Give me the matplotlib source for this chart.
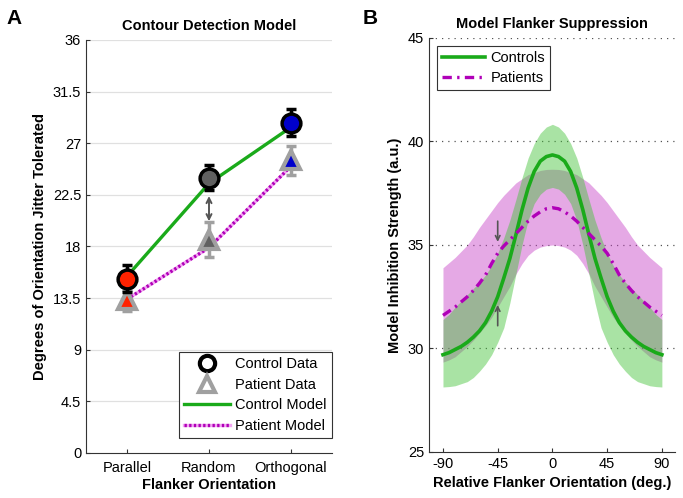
import numpy as np
import matplotlib
matplotlib.use("Agg")
import matplotlib.pyplot as plt
from matplotlib.lines import Line2D

plt.rcParams['font.family'] = ['Liberation Sans', 'DejaVu Sans']
plt.rcParams['axes.unicode_minus'] = False

# ---------------- Panel A data ----------------
categories = ['Parallel', 'Random', 'Orthogonal']
control_data = [15.2, 24.0, 28.8]
control_err = [1.2, 1.1, 1.2]
patient_data = [13.3, 18.6, 25.5]
patient_err = [0.95, 1.5, 1.3]
control_model = [15.4, 23.5, 28.4]
patient_model = [13.4, 17.9, 25.0]
marker_fill = ['#ff2200', '#606060', '#0000cc']
a_yticks = [0, 4.5, 9, 13.5, 18, 22.5, 27, 31.5, 36]
a_yticklabels = ['0', '4.5', '9', '13.5', '18', '22.5', '27', '31.5', '36']

# ---------------- Panel B data ----------------
orient = [-90, -85, -80, -75, -70, -65, -60, -55, -50, -45, -40, -35, -30, -25,
          -20, -15, -10, -5, 0, 5, 10, 15, 20, 25, 30, 35, 40, 45, 50, 55, 60,
          65, 70, 75, 80, 85, 90]
controls_mean = [29.7, 29.8, 29.95, 30.1, 30.3, 30.55, 30.85, 31.25, 31.8, 32.5,
                 33.4, 34.35, 35.5, 36.7, 37.75, 38.55, 39.05, 39.27, 39.35,
                 39.27, 39.05, 38.55, 37.75, 36.7, 35.5, 34.35, 33.4, 32.5, 31.8,
                 31.25, 30.85, 30.55, 30.3, 30.1, 29.95, 29.8, 29.7]
controls_upper = [31.4, 31.65, 32.0, 32.3, 32.6, 32.9, 33.2, 33.55, 34.0, 34.6,
                  35.35, 36.2, 37.2, 38.25, 39.2, 39.9, 40.4, 40.7, 40.83,
                  40.7, 40.4, 39.9, 39.2, 38.25, 37.2, 36.2, 35.35, 34.6, 34.0,
                  33.55, 33.2, 32.9, 32.6, 32.3, 32.0, 31.65, 31.4]
controls_lower = [28.14, 28.16, 28.2, 28.3, 28.4, 28.6, 28.9, 29.25, 29.7, 30.3,
                  31.0, 32.2, 33.6, 35.0, 36.2, 37.0, 37.45, 37.7, 37.78,
                  37.7, 37.45, 37.0, 36.2, 35.0, 33.6, 32.2, 31.0, 30.3, 29.7,
                  29.25, 28.9, 28.6, 28.4, 28.3, 28.2, 28.16, 28.14]
patients_mean = [31.6, 31.8, 32.0, 32.25, 32.5, 32.8, 33.15, 33.55, 34.1, 34.6,
                 34.95, 35.25, 35.55, 35.85, 36.15, 36.4, 36.6, 36.75, 36.8,
                 36.75, 36.6, 36.4, 36.15, 35.85, 35.55, 35.25, 34.95, 34.6, 34.1,
                 33.55, 33.15, 32.8, 32.5, 32.25, 32.0, 31.8, 31.6]
patients_upper = [33.9, 34.15, 34.4, 34.7, 35.0, 35.4, 35.85, 36.25, 36.65, 37.05,
                  37.4, 37.7, 38.0, 38.2, 38.4, 38.5, 38.6, 38.65, 38.66,
                  38.65, 38.6, 38.5, 38.4, 38.2, 38.0, 37.7, 37.4, 37.05, 36.65,
                  36.25, 35.85, 35.4, 35.0, 34.7, 34.4, 34.15, 33.9]
patients_lower = [29.34, 29.45, 29.6, 29.85, 30.1, 30.4, 30.75, 31.1, 31.5, 32.0,
                  32.5, 33.0, 33.6, 34.1, 34.5, 34.75, 34.9, 34.97, 35.0,
                  34.97, 34.9, 34.75, 34.5, 34.1, 33.6, 33.0, 32.5, 32.0, 31.5,
                  31.1, 30.75, 30.4, 30.1, 29.85, 29.6, 29.45, 29.34]
b_xticks = [-90, -45, 0, 45, 90]
b_yticks = [25, 30, 35, 40, 45]

GREEN = '#1aaa1a'
MAGENTA = '#b000b8'
AX_COL = '#333333'
FS = 10.5

fig = plt.figure(figsize=(6.83, 4.98), dpi=100)

# ======================= Panel A =======================
ax = fig.add_axes([0.1259, 0.0904, 0.3602, 0.8293])
x = np.arange(1, len(categories) + 1)
ax.set_xlim(0.5, 3.5)
ax.set_ylim(0, 36)
ax.set_yticks(a_yticks)
ax.set_yticklabels(a_yticklabels)
ax.set_xticks(x)
ax.set_xticklabels(categories)
for yv in a_yticks[1:]:
    ax.axhline(yv, color='#e0e0e0', lw=0.9, zorder=0)
for s in ['top', 'right']:
    ax.spines[s].set_visible(False)
for s in ['left', 'bottom']:
    ax.spines[s].set_color(AX_COL)
ax.tick_params(direction='in', length=3, colors=AX_COL, labelcolor='black',
               labelsize=FS)
ax.tick_params(axis='x', pad=6)

ax.plot(x, control_model, color=GREEN, lw=2.4, zorder=2)
ax.plot(x, patient_model, color='#f2a6f2', lw=2.4, zorder=2)
ax.plot(x, patient_model, color=MAGENTA, lw=2.4, dashes=(0.7, 0.7), zorder=2)

ax.errorbar(x, patient_data, yerr=patient_err, fmt='none', ecolor='#a0a0a0',
            elinewidth=2.5, capsize=3.5, capthick=2.5, zorder=3)
for xi, yi, c in zip(x, patient_data, marker_fill):
    ax.plot(xi, yi, marker='^', ms=13, mfc=c, mec='#a0a0a0', mew=3, zorder=3)
ax.errorbar(x, control_data, yerr=control_err, fmt='none', ecolor='black',
            elinewidth=2.5, capsize=3.5, capthick=2.5, zorder=4)
for xi, yi, c in zip(x, control_data, marker_fill):
    ax.plot(xi, yi, marker='o', ms=13.5, mfc=c, mec='black', mew=2.5, zorder=4)

ax.annotate('', xy=(2, 20.2), xytext=(2, 22.4),
            arrowprops=dict(arrowstyle='<->', color='#555555', lw=1.4,
                            shrinkA=0, shrinkB=0, mutation_scale=9))

ax.set_title('Contour Detection Model', fontsize=FS, fontweight='bold', pad=7)
ax.set_xlabel('Flanker Orientation', fontsize=FS, fontweight='bold', labelpad=2)
ax.set_ylabel('Degrees of Orientation Jitter Tolerated', fontsize=FS,
              fontweight='bold', labelpad=4)

h1 = Line2D([], [], marker='o', ls='none', mfc='none', mec='black', mew=3, ms=11)
h2 = Line2D([], [], marker='^', ls='none', mfc='none', mec='#a0a0a0', mew=3, ms=12)
h3 = Line2D([], [], color=GREEN, lw=2.4)
h4a = Line2D([], [], color='#f2a6f2', lw=2.4)
h4b = Line2D([], [], color=MAGENTA, lw=2.4, dashes=(0.7, 0.7))
leg = ax.legend([h1, h2, h3, (h4a, h4b)],
                ['Control Data', 'Patient Data', 'Control Model', 'Patient Model'],
                loc='lower right', bbox_to_anchor=(1.0, 0.036), fontsize=FS,
                frameon=True, fancybox=False, edgecolor=AX_COL, framealpha=1,
                handlelength=3.1, borderpad=0.35, labelspacing=0.45,
                handletextpad=0.4, borderaxespad=0)
leg.get_frame().set_linewidth(0.8)

fig.text(0.010, 0.982, 'A', fontsize=15, fontweight='bold', va='top', ha='left')

# ======================= Panel B =======================
bx = fig.add_axes([0.6281, 0.0924, 0.3602, 0.8313])
bx.set_xlim(-101.5, 100.8)
bx.set_ylim(25, 45)
bx.set_xticks(b_xticks)
bx.set_yticks(b_yticks)
for yv in b_yticks[1:]:
    bx.axhline(yv, color='#555555', lw=0.9, ls=(0, (1, 4)), zorder=0)
for s in ['top', 'right']:
    bx.spines[s].set_visible(False)
for s in ['left', 'bottom']:
    bx.spines[s].set_color(AX_COL)
bx.tick_params(direction='in', length=3, colors=AX_COL, labelcolor='black',
               labelsize=FS)

bx.fill_between(orient, patients_lower, patients_upper, color='#c742c7',
                alpha=0.45, lw=0, zorder=1)
bx.fill_between(orient, controls_lower, controls_upper, color='#42c337',
                alpha=0.45, lw=0, zorder=2)
lc, = bx.plot(orient, controls_mean, color=GREEN, lw=2.6, zorder=3)
lp, = bx.plot(orient, patients_mean, color=MAGENTA, lw=2.4,
              ls=(0, (2.8, 1.6, 0.7, 1.6)), zorder=4)

bx.annotate('', xy=(-45, 35.15), xytext=(-45, 36.15),
            arrowprops=dict(arrowstyle='->', color='#555555', lw=1.2,
                            shrinkA=0, shrinkB=0, mutation_scale=8), zorder=5)
bx.annotate('', xy=(-45, 32.1), xytext=(-45, 31.1),
            arrowprops=dict(arrowstyle='->', color='#555555', lw=1.2,
                            shrinkA=0, shrinkB=0, mutation_scale=8), zorder=5)

bx.set_title('Model Flanker Suppression', fontsize=FS, fontweight='bold', pad=7)
bx.set_xlabel('Relative Flanker Orientation (deg.)', fontsize=FS,
              fontweight='bold', labelpad=4)
bx.set_ylabel('Model Inhibition Strength (a.u.)', fontsize=FS,
              fontweight='bold', labelpad=4)

leg2 = bx.legend([lc, lp], ['Controls', 'Patients'], loc='upper left',
                 bbox_to_anchor=(0.033, 0.98), fontsize=FS, frameon=True,
                 fancybox=False, edgecolor=AX_COL, framealpha=1,
                 handlelength=2.9, borderpad=0.35, labelspacing=0.38,
                 handletextpad=0.4, borderaxespad=0)
leg2.get_frame().set_linewidth(0.8)

fig.text(0.531, 0.982, 'B', fontsize=15, fontweight='bold', va='top', ha='left')

fig.savefig('out.png', dpi=100)
